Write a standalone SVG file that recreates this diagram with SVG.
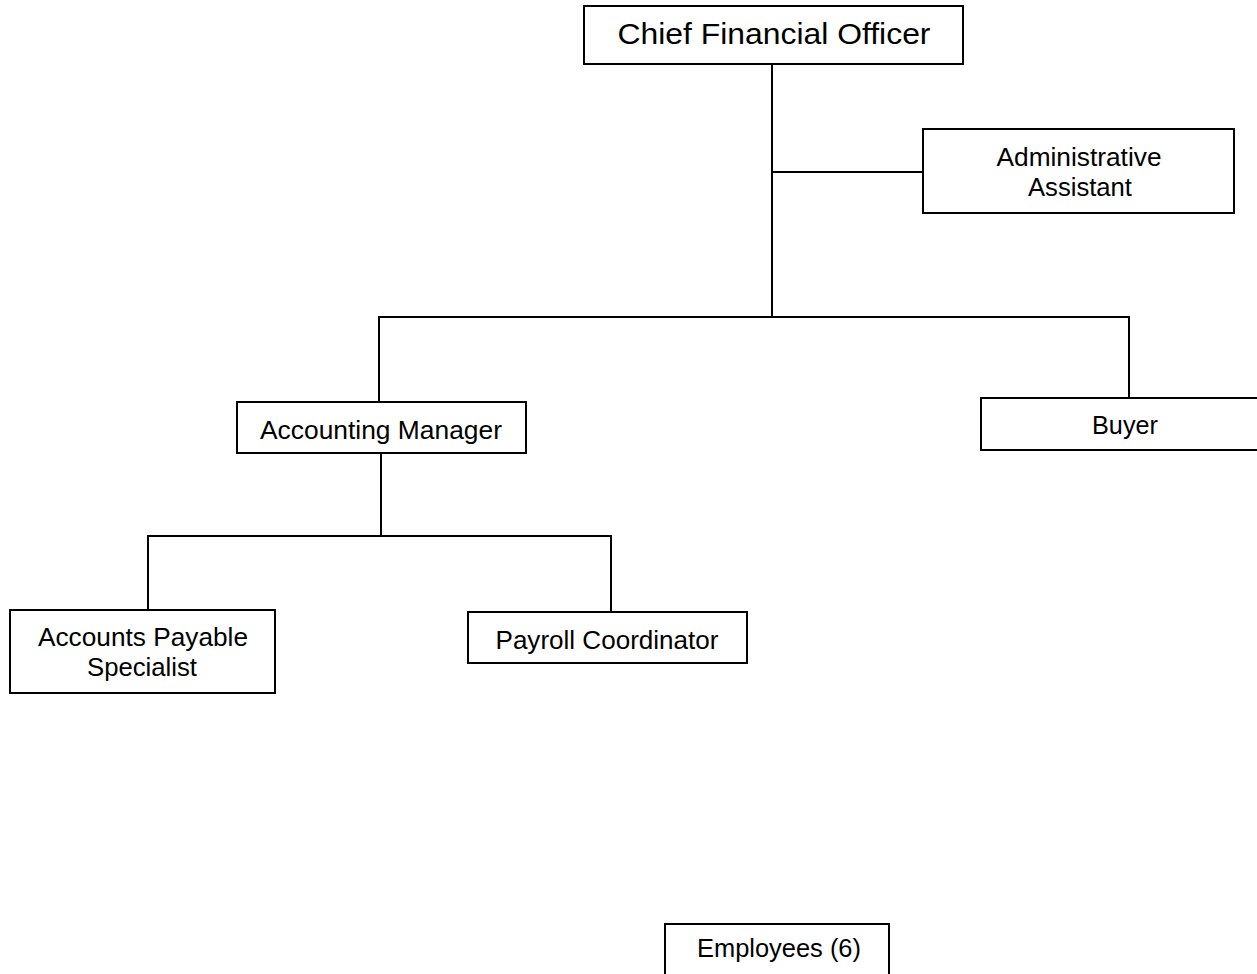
<svg xmlns="http://www.w3.org/2000/svg" width="1257" height="974" viewBox="0 0 1257 974">
<style>
rect{fill:#fff;stroke:#000;stroke-width:2}
.c line{stroke:#000;stroke-width:2}
text{font-family:"Liberation Sans",Arial,sans-serif;font-size:25.5px;fill:#000;text-anchor:middle}
.big{font-size:30px}
</style>
<rect x="0" y="0" width="1257" height="974" style="stroke:none"/>
<g class="c" id="connectors">
<line x1="772" y1="64" x2="772" y2="317"/>
<line x1="772" y1="172" x2="923" y2="172"/>
<line x1="378" y1="317" x2="1130" y2="317"/>
<line x1="379" y1="316" x2="379" y2="402"/>
<line x1="1129" y1="316" x2="1129" y2="398"/>
<line x1="381" y1="453" x2="381" y2="536"/>
<line x1="147" y1="536" x2="612" y2="536"/>
<line x1="148" y1="535" x2="148" y2="610"/>
<line x1="611" y1="535" x2="611" y2="612"/>
</g>
<g id="cfo"><rect x="584" y="6" width="379" height="58"/><text class="big" x="774" y="44" textLength="313" lengthAdjust="spacingAndGlyphs">Chief Financial Officer</text></g>
<g id="admin"><rect x="923" y="129" width="311" height="84"/><text x="1079" y="166" textLength="165" lengthAdjust="spacingAndGlyphs">Administrative</text><text x="1080" y="196" textLength="104" lengthAdjust="spacingAndGlyphs">Assistant</text></g>
<g id="acctmgr"><rect x="237" y="402" width="289" height="51"/><text x="381" y="439" textLength="242" lengthAdjust="spacingAndGlyphs">Accounting Manager</text></g>
<g id="buyer"><rect x="981" y="398" width="290" height="52"/><text x="1125" y="434" textLength="66" lengthAdjust="spacingAndGlyphs">Buyer</text></g>
<g id="aps"><rect x="10" y="610" width="265" height="83"/><text x="143" y="646" textLength="210" lengthAdjust="spacingAndGlyphs">Accounts Payable</text><text x="142" y="676" textLength="110" lengthAdjust="spacingAndGlyphs">Specialist</text></g>
<g id="payroll"><rect x="468" y="612" width="279" height="51"/><text x="607" y="649" textLength="223" lengthAdjust="spacingAndGlyphs">Payroll Coordinator</text></g>
<g id="employees"><rect x="665" y="924" width="224" height="60"/><text x="779" y="957" textLength="164" lengthAdjust="spacingAndGlyphs">Employees (6)</text></g>
</svg>
